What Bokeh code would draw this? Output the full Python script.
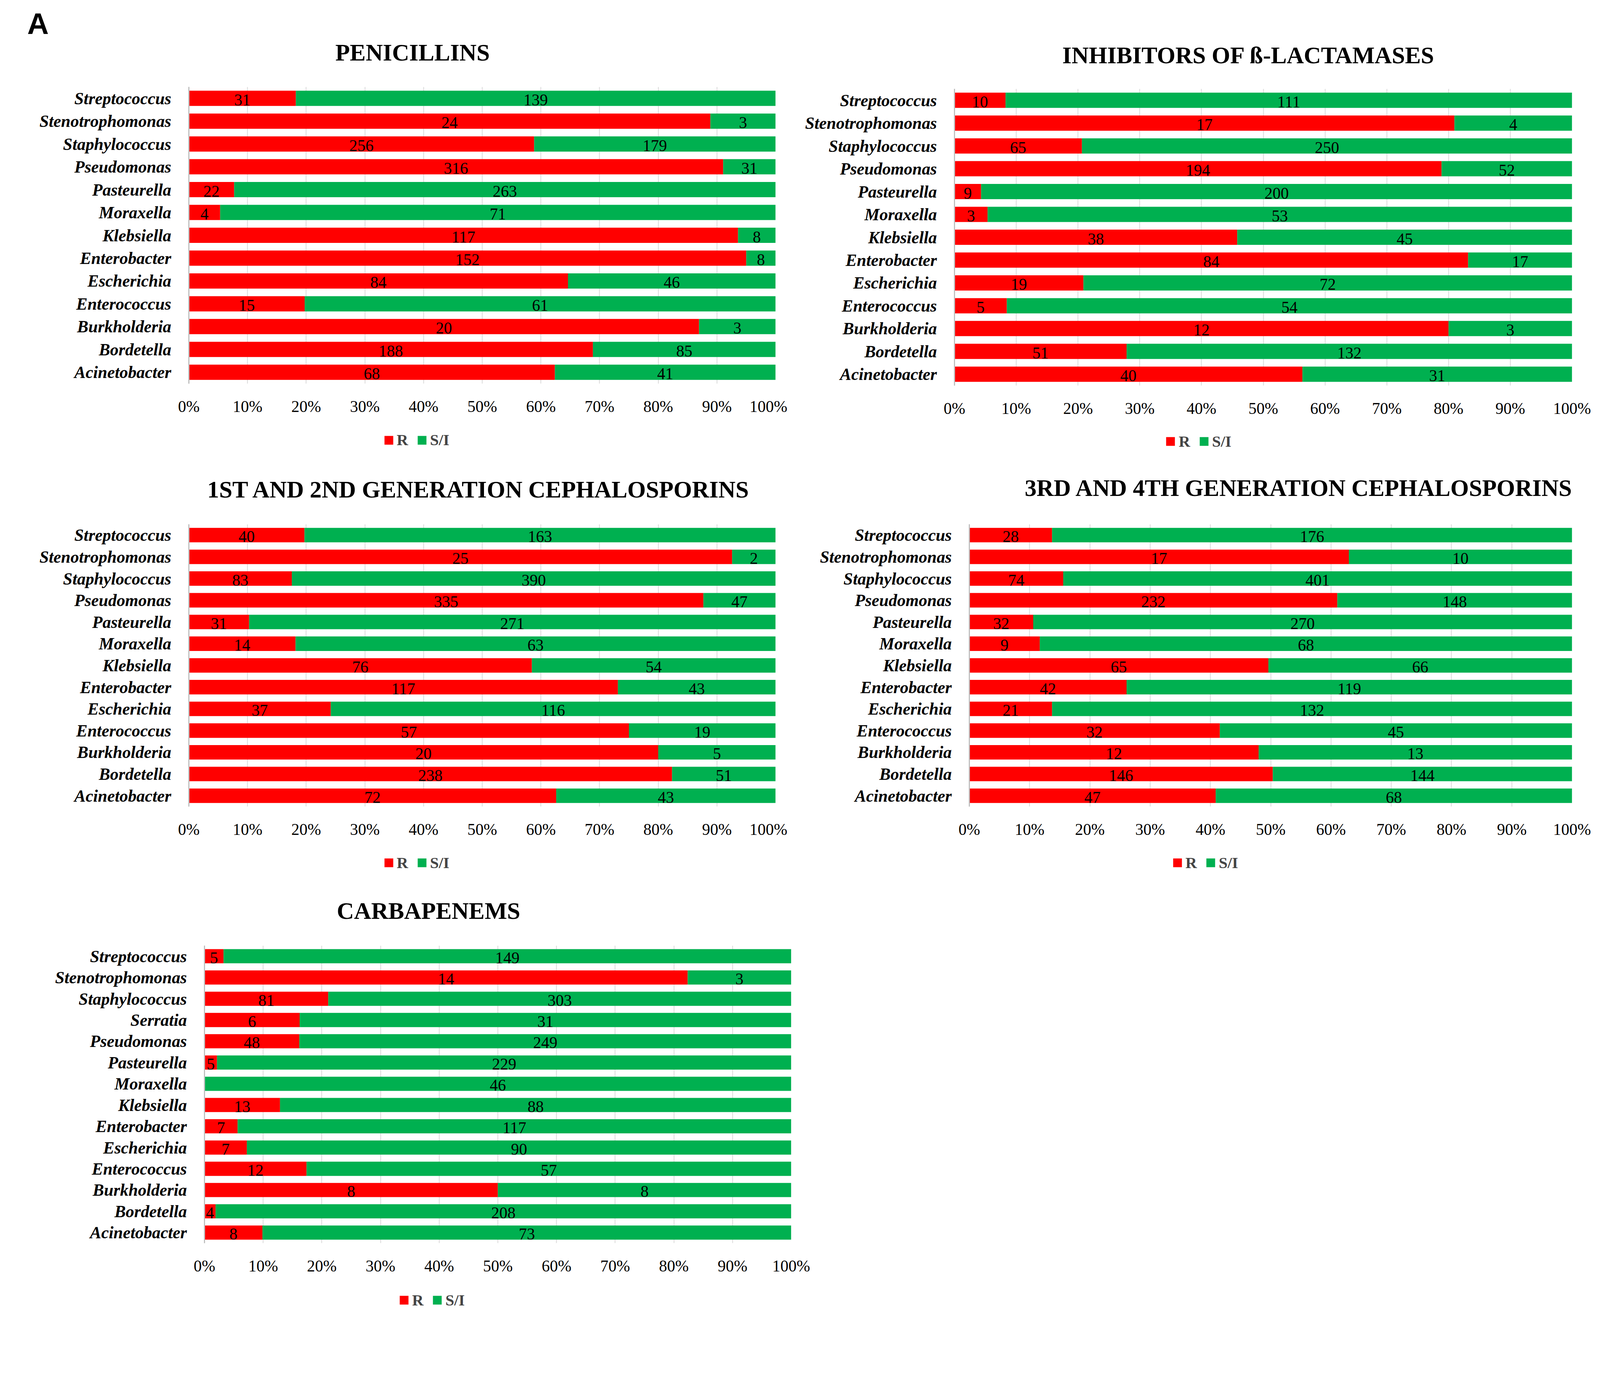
from bokeh.plotting import figure
from bokeh.models import (ColumnDataSource, FactorRange, Range1d, FixedTicker,
                          NumeralTickFormatter, Label, Legend, LegendItem, Plot)
from bokeh.layouts import column, row
from bokeh.core.properties import value
from bokeh.embed import file_html
from bokeh.resources import INLINE

RED = "#FF0000"
GREEN = "#00B050"
SERIF = "Liberation Serif"

# ---------------- data (top to bottom as shown) ----------------
genera = ["Streptococcus", "Stenotrophomonas", "Staphylococcus", "Pseudomonas",
          "Pasteurella", "Moraxella", "Klebsiella", "Enterobacter", "Escherichia",
          "Enterococcus", "Burkholderia", "Bordetella", "Acinetobacter"]
genera_carb = ["Streptococcus", "Stenotrophomonas", "Staphylococcus", "Serratia",
               "Pseudomonas", "Pasteurella", "Moraxella", "Klebsiella", "Enterobacter",
               "Escherichia", "Enterococcus", "Burkholderia", "Bordetella", "Acinetobacter"]

pen_R = [31, 24, 256, 316, 22, 4, 117, 152, 84, 15, 20, 188, 68]
pen_SI = [139, 3, 179, 31, 263, 71, 8, 8, 46, 61, 3, 85, 41]

inh_R = [10, 17, 65, 194, 9, 3, 38, 84, 19, 5, 12, 51, 40]
inh_SI = [111, 4, 250, 52, 200, 53, 45, 17, 72, 54, 3, 132, 31]

ceph12_R = [40, 25, 83, 335, 31, 14, 76, 117, 37, 57, 20, 238, 72]
ceph12_SI = [163, 2, 390, 47, 271, 63, 54, 43, 116, 19, 5, 51, 43]

ceph34_R = [28, 17, 74, 232, 32, 9, 65, 42, 21, 32, 12, 146, 47]
ceph34_SI = [176, 10, 401, 148, 270, 68, 66, 119, 132, 45, 13, 144, 68]

carb_R = [5, 14, 81, 6, 48, 5, 0, 13, 7, 7, 12, 8, 4, 8]
carb_SI = [149, 3, 303, 31, 249, 229, 46, 88, 117, 90, 57, 8, 208, 73]

pct_ticks = [0, 0.1, 0.2, 0.3, 0.4, 0.5, 0.6, 0.7, 0.8, 0.9, 1.0]
series_names = ["R", "S/I"]

# screenshot px -> css px
K = 1 / 1.037
HAS_FA = "frame_align" in Plot.properties()


def fs(px):
    return "%.1fpx" % (px * K)


def strip(W, H):
    s = figure(width=W, height=H, x_range=Range1d(0, 1), y_range=Range1d(0, 1),
               x_axis_type=None, y_axis_type=None, output_backend="svg",
               toolbar_location=None, title=None, min_border=0,
               min_border_left=0, min_border_right=0, min_border_top=0,
               min_border_bottom=0)
    if HAS_FA:
        s.frame_align = False
    s.outline_line_color = None
    s.grid.visible = False
    s.background_fill_color = "white"
    s.border_fill_color = "white"
    return s


def panel(title, cats, r_vals, si_vals, W, ox, bands, frame, title_pos, legend_pos,
          letter=None):
    top, t_end, m_end, bottom = bands              # css page y of strip edges
    fl, ft, fr, fb = [v * K for v in frame]         # css page coords of frame
    x0 = ox if HAS_FA else fl                       # css x of the strips' frame left

    # ---- title strip ----
    th = t_end - top
    ts = strip(W, th)
    tl, tbase = title_pos
    ts.add_layout(Label(x=tl * K - x0, y=th - (tbase * K - top), x_units="screen",
                        y_units="screen", text=title, text_font=SERIF,
                        text_font_style="bold", text_font_size=fs(63),
                        text_align="left", text_baseline="alphabetic",
                        text_color="black"))
    if letter:
        ax, ay = letter
        ts.add_layout(Label(x=ax * K - x0, y=th - (ay * K - top), x_units="screen",
                            y_units="screen", text="A", text_font="Liberation Sans",
                            text_font_style="bold", text_font_size=fs(79),
                            text_align="left", text_baseline="middle",
                            text_color="black"))

    # ---- main chart ----
    cats_b = list(reversed(cats))
    r_b = list(reversed(r_vals))
    s_b = list(reversed(si_vals))
    tot = [a + b for a, b in zip(r_b, s_b)]
    rf = [a / t for a, t in zip(r_b, tot)]
    sf = [b / t for b, t in zip(s_b, tot)]
    src = ColumnDataSource(dict(
        cat=cats_b, r=rf, si=sf,
        r_mid=[f / 2 for f in rf],
        si_mid=[a + b / 2 for a, b in zip(rf, sf)],
        r_lbl=[str(v) if v > 0 else "" for v in r_b],
        si_lbl=[str(v) if v > 0 else "" for v in s_b],
    ))
    mh = m_end - t_end
    p = figure(width=W, height=mh, y_range=FactorRange(factors=cats_b),
               x_range=Range1d(0, 1), output_backend="svg", toolbar_location=None,
               title=None,
               min_border_left=round(fl - ox), min_border_right=round(ox + W - fr),
               min_border_top=round(ft - t_end), min_border_bottom=round(m_end - fb))
    p.outline_line_color = None
    p.background_fill_color = "white"
    p.border_fill_color = "white"

    p.hbar_stack(["r", "si"], y="cat", height=0.667, color=[RED, GREEN],
                 line_color=None, source=src)
    for xc, tc in (("r_mid", "r_lbl"), ("si_mid", "si_lbl")):
        p.text(x=xc, y="cat", text=tc, source=src, text_font=value(SERIF),
               text_font_size=fs(43), text_align="center", text_baseline="middle",
               text_color="black", y_offset=4)

    p.xaxis.ticker = FixedTicker(ticks=pct_ticks)
    p.xaxis.formatter = NumeralTickFormatter(format="0%")
    p.xaxis.axis_line_color = None
    p.xaxis.major_tick_line_color = None
    p.xaxis.minor_tick_line_color = None
    p.xaxis.major_label_text_font = SERIF
    p.xaxis.major_label_text_font_size = fs(43)
    p.xaxis.major_label_text_color = "black"
    p.xaxis.major_label_standoff = 29

    p.yaxis.axis_line_color = "#BFBFBF"
    p.yaxis.axis_line_width = 3
    p.yaxis.major_tick_line_color = None
    p.yaxis.minor_tick_line_color = None
    p.yaxis.major_label_text_font = SERIF
    p.yaxis.major_label_text_font_style = "bold italic"
    p.yaxis.major_label_text_font_size = fs(45)
    p.yaxis.major_label_text_color = "black"
    p.yaxis.major_label_standoff = 39

    p.xgrid.ticker = FixedTicker(ticks=pct_ticks)
    p.xgrid.grid_line_color = "#D9D9D9"
    p.xgrid.grid_line_width = 2
    p.ygrid.grid_line_color = None

    # ---- legend strip (zero-size proxies carry the legend swatches) ----
    lh_ = bottom - m_end
    ls = strip(W, lh_)
    rr = ls.quad(left=[0], right=[0], top=[0], bottom=[0], color=RED, line_color=None)
    rg = ls.quad(left=[0], right=[0], top=[0], bottom=[0], color=GREEN, line_color=None)
    lgx, lgy = legend_pos
    leg_h = 46
    gw = 28                      # legend swatch box (drawn inset by 10% per side)
    vy = lh_ - ((lgy * K - m_end) + leg_h / 2)
    items = [LegendItem(label=series_names[0], renderers=[rr]),
             LegendItem(label=series_names[1], renderers=[rg])]
    leg = Legend(items=items, location=(lgx * K - x0 - 0.1 * gw, vy),
                 orientation="horizontal", glyph_width=gw, glyph_height=gw,
                 label_text_font=SERIF, label_text_font_style="bold",
                 label_text_font_size=fs(42), label_standoff=7, spacing=21,
                 padding=0, margin=0, border_line_color=None,
                 background_fill_alpha=0)
    ls.add_layout(leg)
    return column(ts, p, ls)


W1, W2 = 2015, 2075

c1 = panel("PENICILLINS", genera, pen_R, pen_SI, W1, 8, (8, 200, 1085, 1205),
           (509, 238, 2067, 1027), (898, 147), (1028, 1177), letter=(80, 71))
c2 = panel("INHIBITORS OF ß-LACTAMASES", genera, inh_R, inh_SI, W2, 8 + W1,
           (8, 200, 1085, 1205), (2542, 244, 4181, 1032), (2828, 154), (3104, 1181))
c3 = panel("1ST AND 2ND GENERATION CEPHALOSPORINS", genera, ceph12_R, ceph12_SI,
           W1, 8, (1205, 1310, 2165, 2295), (509, 1400, 2067, 2150), (558, 1308),
           (1028, 2300))
c4 = panel("3RD AND 4TH GENERATION CEPHALOSPORINS", genera, ceph34_R, ceph34_SI,
           W2, 8 + W1, (1205, 1310, 2165, 2295), (2581, 1400, 4181, 2150),
           (2728, 1304), (3122, 2300))
c5 = panel("CARBAPENEMS", genera_carb, carb_R, carb_SI, W2, 8,
           (2295, 2395, 3285, 3399), (551, 2519, 2108, 3309), (902, 2427),
           (1069, 3461))

layout = column(row(c1, c2), row(c3, c4), row(c5))
open("out.html", "w").write(file_html(layout, INLINE))
